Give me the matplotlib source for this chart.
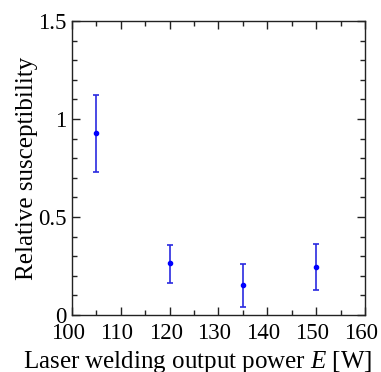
import matplotlib
matplotlib.use('Agg')
import matplotlib.pyplot as plt
import matplotlib.transforms as mtransforms
from matplotlib.ticker import MultipleLocator

# Data
power = [105, 120, 135, 150]
susceptibility = [0.93, 0.264, 0.153, 0.246]
err_low = [0.20, 0.102, 0.111, 0.118]
err_high = [0.192, 0.093, 0.107, 0.116]

plt.rcParams['font.family'] = ['Liberation Serif', 'DejaVu Serif']
plt.rcParams['mathtext.fontset'] = 'custom'
plt.rcParams['mathtext.it'] = 'Liberation Serif:italic'
plt.rcParams['mathtext.rm'] = 'Liberation Serif'

fig = plt.figure(figsize=(3.81, 3.72), dpi=100)
ax = fig.add_axes([72 / 381, 1 - 315 / 372, 293 / 381, 294 / 372])

ax.errorbar(power, susceptibility, yerr=[err_low, err_high], fmt='o',
            color='#0000ff', ecolor='#2a2ae0', markersize=3, elinewidth=1.2,
            capsize=2.2, capthick=1.2)

ax.set_xlim(100, 160)
ax.set_ylim(0, 1.5)
ax.xaxis.set_major_locator(MultipleLocator(10))
ax.xaxis.set_minor_locator(MultipleLocator(5))
ax.yaxis.set_minor_locator(MultipleLocator(0.1))
ax.set_yticks([0, 0.5, 1, 1.5])
ax.set_yticklabels(['0', '0.5', '1', '1.5'])

ax.tick_params(which='both', direction='in', top=True, right=True,
               labelsize=16.5, width=1, colors='#222222', labelcolor='black')
ax.tick_params(which='major', length=6)
ax.tick_params(which='minor', length=3.5)
ax.tick_params(axis='x', pad=6)
ax.tick_params(axis='y', pad=4)
for s in ax.spines.values():
    s.set_color('#222222')
    s.set_linewidth(1)

# x tick labels sit a little left of their ticks in the original
shift = mtransforms.ScaledTranslation(-4 / 100, 0, fig.dpi_scale_trans)
for lab in ax.get_xticklabels():
    lab.set_transform(lab.get_transform() + shift)

ax.set_ylabel('Relative susceptibility', fontsize=18, labelpad=0)
ax.set_xlabel('Laser welding output power $E$ [W]', fontsize=18)
ax.xaxis.set_label_coords(0.43, -0.115)
ax.xaxis.label.set_va('top')

fig.savefig('out.png', dpi=100)
